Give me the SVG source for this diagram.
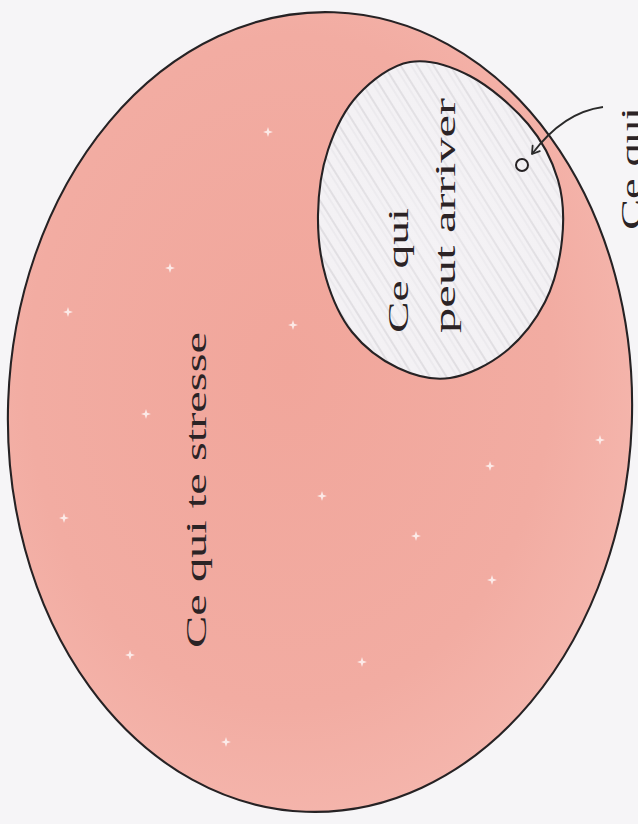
<svg xmlns="http://www.w3.org/2000/svg" width="638" height="824" viewBox="0 0 638 824">
  <defs>
    <radialGradient id="pinkFill" cx="0.45" cy="0.45" r="0.6">
      <stop offset="0" stop-color="#f1a69b"/>
      <stop offset="0.7" stop-color="#f2aca2"/>
      <stop offset="1" stop-color="#f5b7ae"/>
    </radialGradient>
    <pattern id="hatch" width="14" height="14" patternUnits="userSpaceOnUse" patternTransform="rotate(58)">
      <line x1="0" y1="3" x2="14" y2="3" stroke="#b9b6bb" stroke-width="1.4" stroke-opacity="0.5"/>
      <line x1="0" y1="8" x2="14" y2="8" stroke="#c8c5ca" stroke-width="1" stroke-opacity="0.35"/>
    </pattern>
    <radialGradient id="hatchMask" cx="0.5" cy="0.5" r="0.55">
      <stop offset="0" stop-color="#f5f3f6" stop-opacity="0.45"/>
      <stop offset="1" stop-color="#f5f3f6" stop-opacity="0"/>
    </radialGradient>
    <marker id="openArrow" markerWidth="12" markerHeight="12" refX="9" refY="6" orient="auto" markerUnits="userSpaceOnUse">
      <path d="M2,1.5 L9,6 L2,10.5" fill="none" stroke="#2a2a2a" stroke-width="1.8" stroke-linecap="round" stroke-linejoin="round"/>
    </marker>
    <g id="spark">
      <path d="M0,-5 L1.2,-1.2 L5,0 L1.2,1.2 L0,5 L-1.2,1.2 L-5,0 L-1.2,-1.2 Z" fill="#ffffff" fill-opacity="0.75"/>
    </g>
    <path id="innerShape" d="M410,62 C428.7,58.8 450.3,65.7 470,76 C489.7,86.3 513.3,106.7 528,124 C542.7,141.3 552.3,160.7 558,180 C563.7,199.3 564.2,219.7 562,240 C559.8,260.3 554.5,283.3 545,302 C535.5,320.7 520.8,339.3 505,352 C489.2,364.7 467.8,375.3 450,378 C432.2,380.7 414.3,375.7 398,368 C381.7,360.3 364,347 352,332 C340,317 331.7,297.5 326,278 C320.3,258.5 317.7,236.3 318,215 C318.3,193.7 321.3,170 328,150 C334.7,130 344.3,109.7 358,95 C371.7,80.3 391.3,65.2 410,62 Z"/>
  </defs>
  <style>
    .outline { stroke: #262224; stroke-width: 2.1; }
    .lbl { font-family: "Liberation Serif", "DejaVu Serif", serif; font-size: 30px; fill: #2b2325; }
  </style>

  <rect x="0" y="0" width="638" height="824" fill="#f6f5f7"/>

  <g id="node-stresse">
    <ellipse cx="320" cy="412" rx="312" ry="400" transform="rotate(2 320 412)" fill="url(#pinkFill)" class="outline"/>
    <g id="sparkles">
      <use href="#spark" x="268" y="132"/>
      <use href="#spark" x="170" y="268"/>
      <use href="#spark" x="68" y="312"/>
      <use href="#spark" x="293" y="325"/>
      <use href="#spark" x="146" y="414"/>
      <use href="#spark" x="322" y="496"/>
      <use href="#spark" x="64" y="518"/>
      <use href="#spark" x="416" y="536"/>
      <use href="#spark" x="490" y="466"/>
      <use href="#spark" x="492" y="580"/>
      <use href="#spark" x="362" y="662"/>
      <use href="#spark" x="226" y="742"/>
      <use href="#spark" x="600" y="440"/>
      <use href="#spark" x="130" y="655"/>
    </g>
    <text class="lbl" transform="translate(206,648) rotate(-90)" textLength="316" lengthAdjust="spacingAndGlyphs">Ce qui te stresse</text>
  </g>

  <g id="node-arriver">
    <use href="#innerShape" fill="#f3f1f4"/>
    <use href="#innerShape" fill="url(#hatch)"/>
    <use href="#innerShape" fill="url(#hatchMask)"/>
    <use href="#innerShape" fill="none" class="outline"/>
    <text class="lbl" transform="translate(408,333) rotate(-90)" textLength="125" lengthAdjust="spacingAndGlyphs">Ce qui</text>
    <text class="lbl" transform="translate(455,333) rotate(-90)" textLength="235" lengthAdjust="spacingAndGlyphs">peut arriver</text>
  </g>

  <g id="node-point">
    <circle cx="522" cy="165" r="6" fill="none" stroke="#262224" stroke-width="2"/>
  </g>

  <g id="node-outside-label">
    <text class="lbl" transform="translate(641,230) rotate(-90)" textLength="123" lengthAdjust="spacingAndGlyphs">Ce qui</text>
  </g>

  <g id="connectors">
    <path d="M603,107 C580,110 556,122 532,154" fill="none" stroke="#2a2a2a" stroke-width="1.8" marker-end="url(#openArrow)"/>
  </g>
</svg>
